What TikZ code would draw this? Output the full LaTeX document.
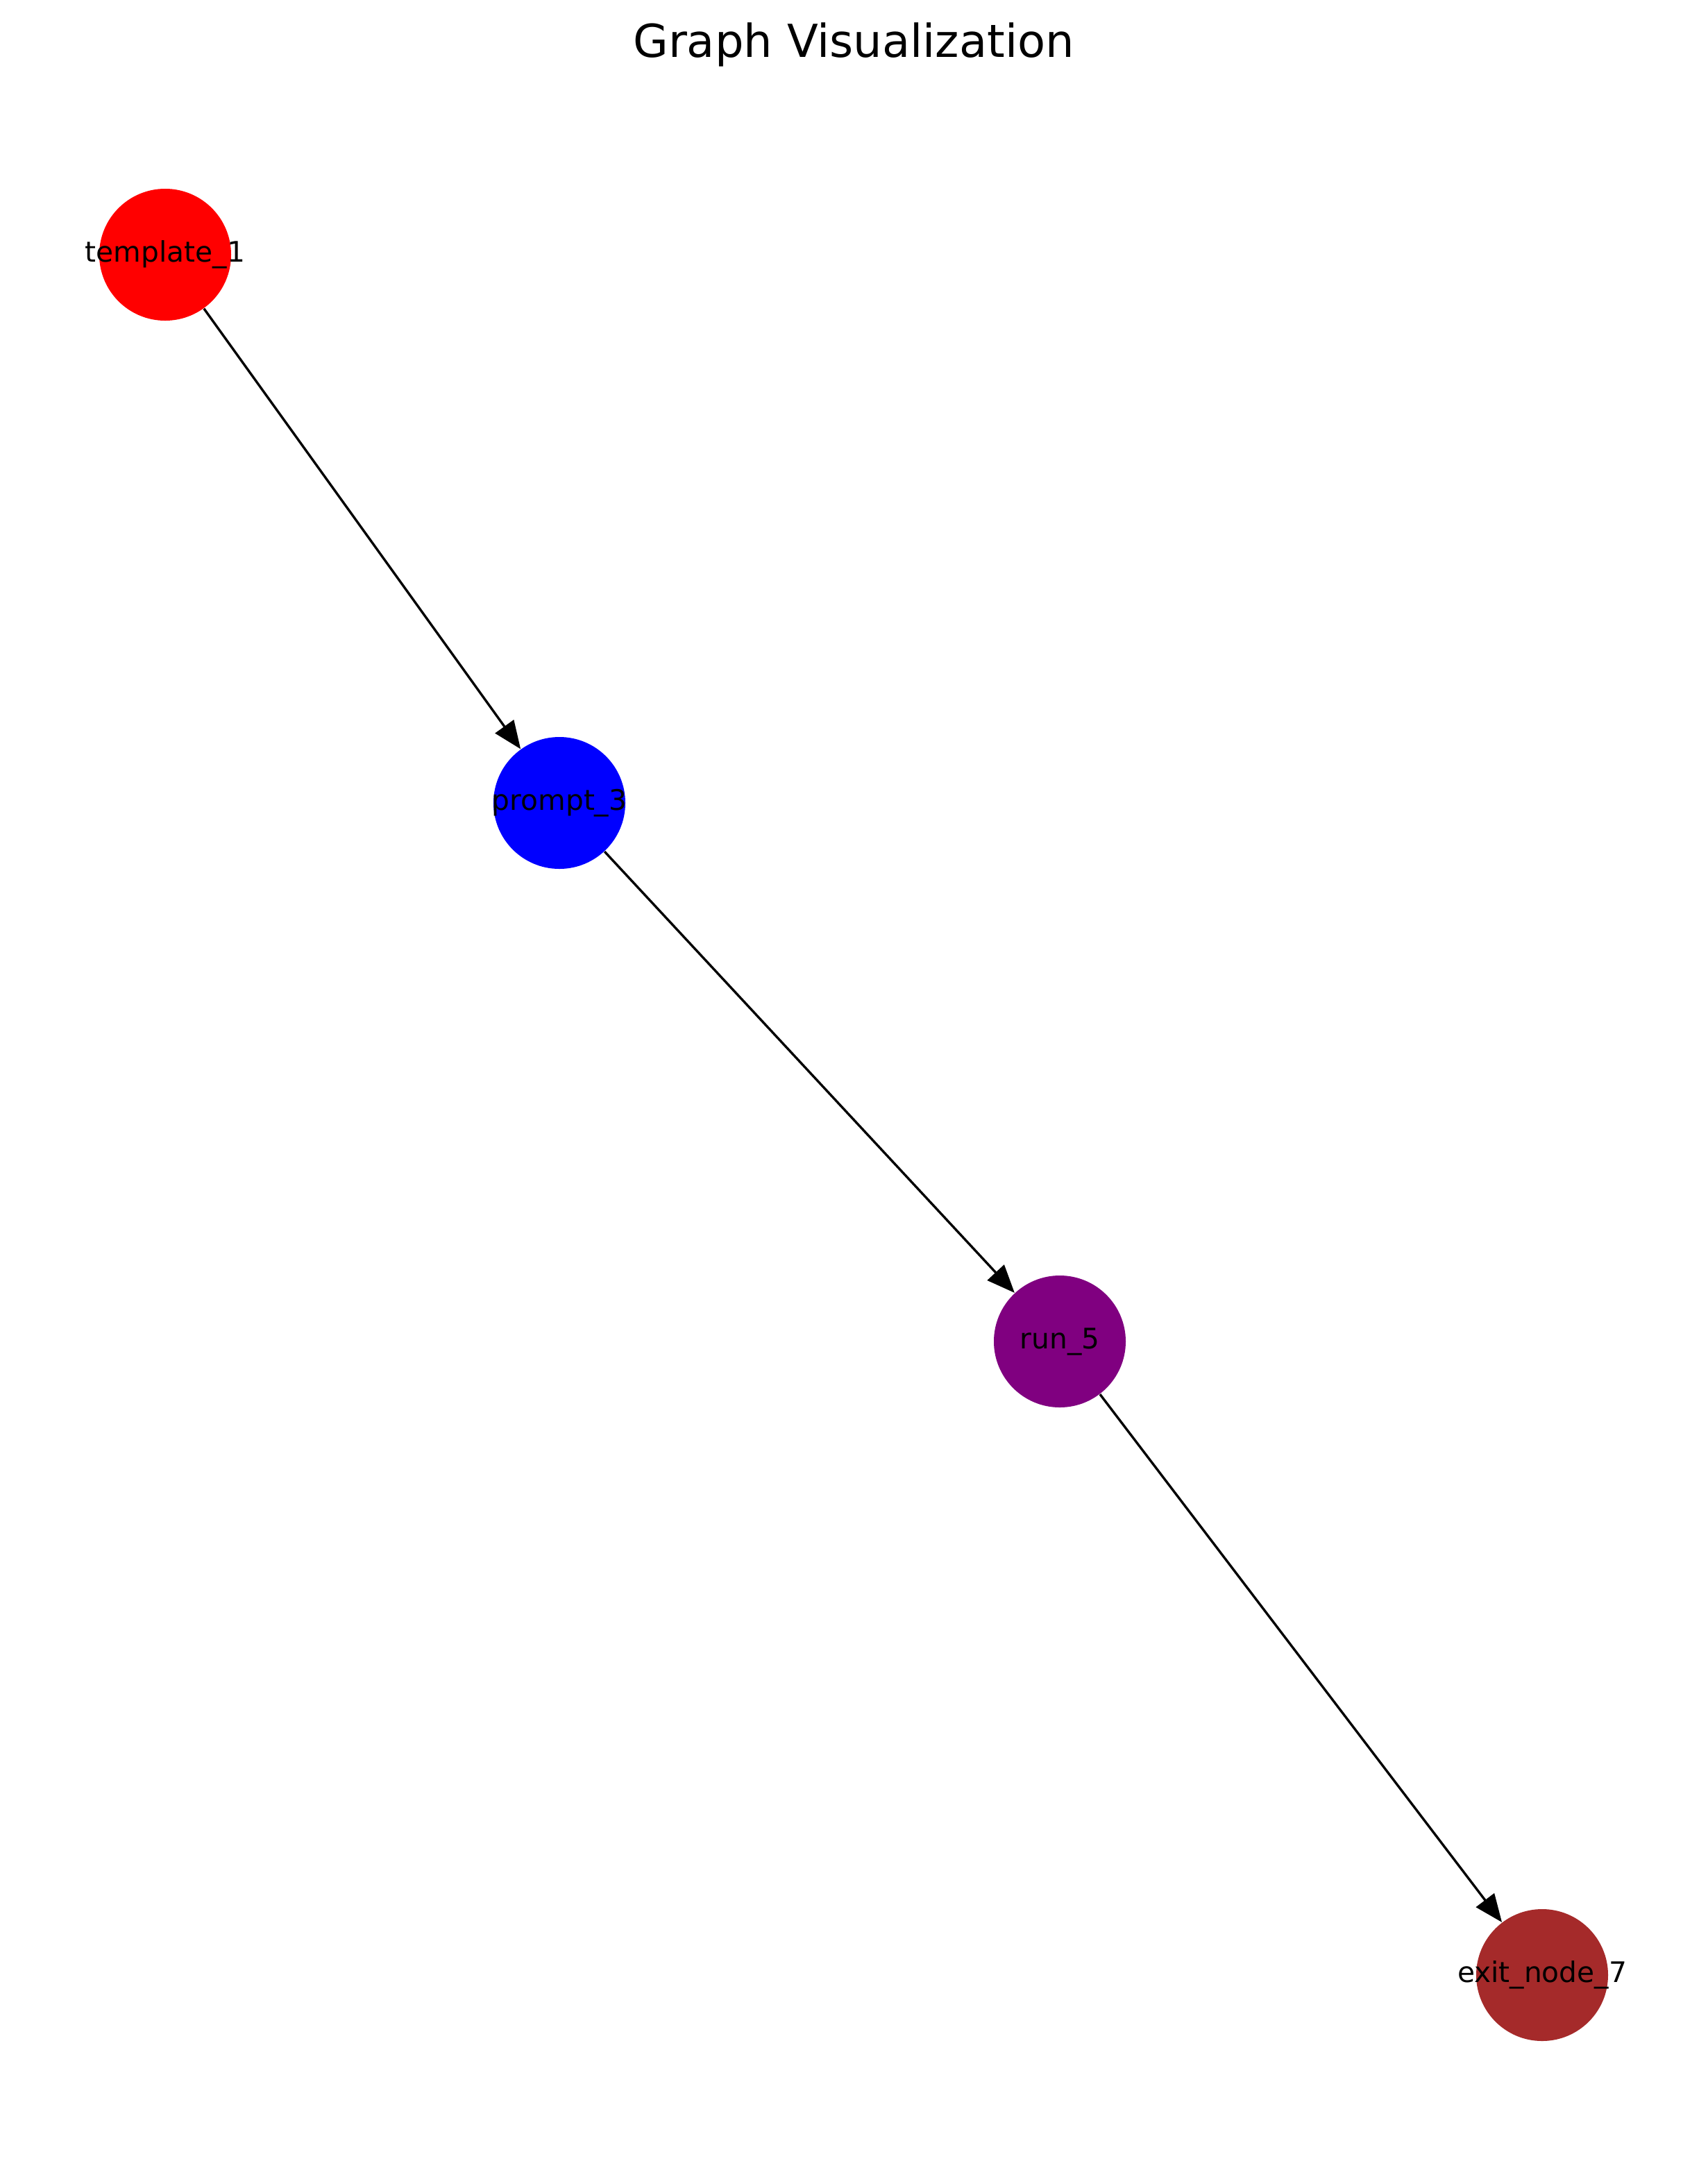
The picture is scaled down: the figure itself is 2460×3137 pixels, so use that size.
\documentclass[tikz,border=0pt]{standalone}
\usepackage{fontspec}
\setmainfont{DejaVu Sans}
\usepackage{tikz}
\usetikzlibrary{arrows.meta}
\definecolor{nodered}{RGB}{255,0,0}
\definecolor{nodeblue}{RGB}{0,0,255}
\definecolor{nodepurple}{RGB}{128,0,128}
\definecolor{nodebrown}{RGB}{165,42,42}
\tikzset{
  vertex/.style={circle,inner sep=0pt,minimum size=56pt,
    label={[font=\fontsize{12}{14}\selectfont,text height=9.1pt,text depth=2.9pt,inner sep=0pt]center:#1}},
  link/.style={-{Triangle[length=11.8pt,width=9.6pt]},line width=1pt,black}
}

\begin{document}
\begin{tikzpicture}[x=0.2947pt,y=-0.2947pt]
\useasboundingbox (0,0) rectangle (2460,3137);
%%%%
\node[anchor=base,font=\fontsize{19.3}{23}\selectfont] (title) at (1230,82) {Graph Visualization};
%
\node[vertex={template\_1},fill=nodered] (template1) at (238,367) {};
\node[vertex={prompt\_3},fill=nodeblue] (prompt3) at (806,1157) {};
\node[vertex={run\_5},fill=nodepurple] (run5) at (1527,1933) {};
\node[vertex={exit\_node\_7},fill=nodebrown] (exit7) at (2222,2846) {};
%%%Edges
\draw[link] (template1)--(prompt3);
\draw[link] (prompt3)--(run5);
\draw[link] (run5)--(exit7);
\end{tikzpicture}
\end{document}
